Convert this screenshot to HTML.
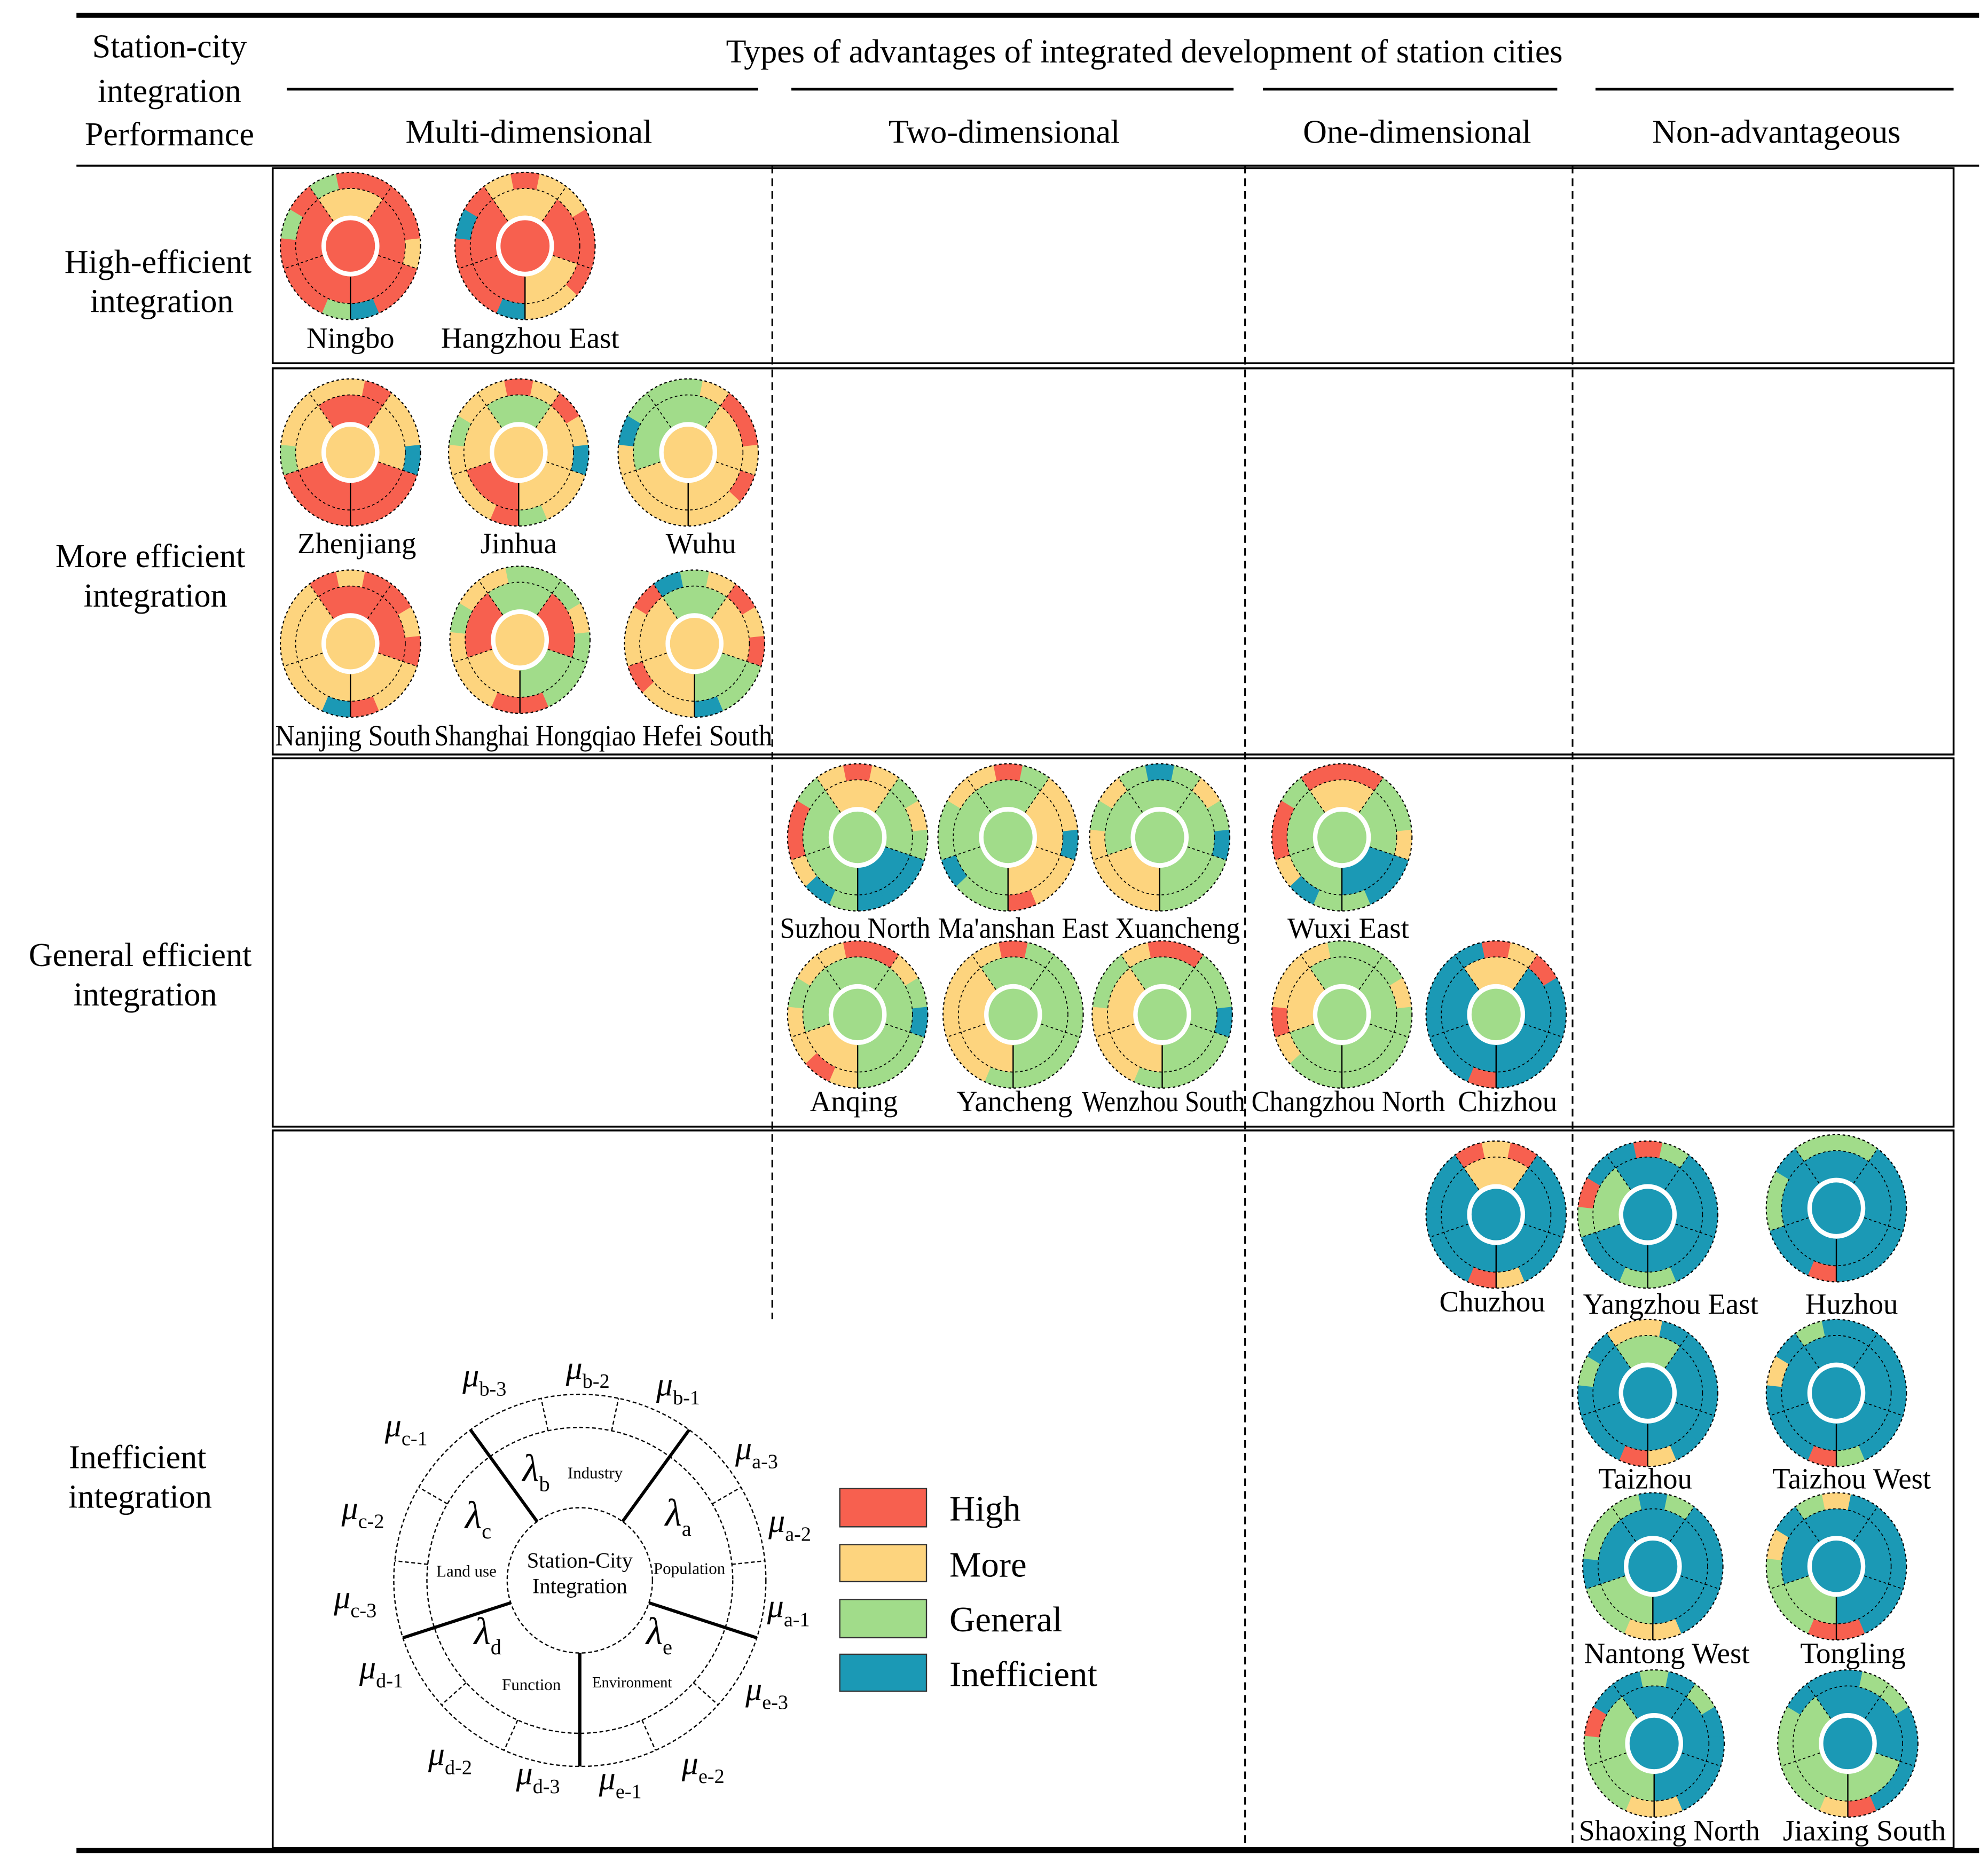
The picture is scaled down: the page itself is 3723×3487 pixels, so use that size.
<!DOCTYPE html>
<html><head><meta charset="utf-8"><style>
html,body{margin:0;padding:0;background:#fff;}
svg{display:block;}
svg text{font-family:"Liberation Serif","Times New Roman",Times,serif !important;fill:#000;}
</style></head><body>
<svg id="s" xmlns="http://www.w3.org/2000/svg" width="3723" height="3487" viewBox="0 0 1560 1461" preserveAspectRatio="none" font-family="Liberation Serif, Times New Roman, serif">
<rect width="1560" height="1461" fill="#fff"/>
<line x1="60" y1="12" x2="1553" y2="12" stroke="#000" stroke-width="4"/>
<line x1="225" y1="70" x2="595" y2="70" stroke="#000" stroke-width="2"/>
<line x1="621" y1="70" x2="968" y2="70" stroke="#000" stroke-width="2"/>
<line x1="991" y1="70" x2="1222" y2="70" stroke="#000" stroke-width="2"/>
<line x1="1252" y1="70" x2="1533" y2="70" stroke="#000" stroke-width="2"/>
<line x1="60" y1="130" x2="1553" y2="130" stroke="#000" stroke-width="1.5"/>
<rect x="214" y="132" width="1319" height="153" fill="none" stroke="#000" stroke-width="1.5"/>
<rect x="214" y="289" width="1319" height="303" fill="none" stroke="#000" stroke-width="1.5"/>
<rect x="214" y="595" width="1319" height="289" fill="none" stroke="#000" stroke-width="1.5"/>
<rect x="214" y="887" width="1319" height="563" fill="none" stroke="#000" stroke-width="1.5"/>
<line x1="60" y1="1452" x2="1553" y2="1452" stroke="#000" stroke-width="4"/>
<g stroke="#000" stroke-width="1.3" stroke-dasharray="6,4">
<line x1="606" y1="130" x2="606" y2="1035"/>
<line x1="977" y1="130" x2="977" y2="1450"/>
<line x1="1234" y1="130" x2="1234" y2="1450"/>
</g>
<g font-size="26" text-anchor="middle">
<text x="133" y="45">Station-city</text>
<text x="133" y="80">integration</text>
<text x="133" y="114">Performance</text>
<text x="898" y="49">Types of advantages of integrated development of station cities</text>
<text x="415" y="112">Multi-dimensional</text>
<text x="788" y="112">Two-dimensional</text>
<text x="1112" y="112">One-dimensional</text>
<text x="1394" y="112">Non-advantageous</text>
<text x="124" y="214">High-efficient</text>
<text x="127" y="245">integration</text>
<text x="118" y="445">More efficient</text>
<text x="122" y="476">integration</text>
<text x="110" y="758">General efficient</text>
<text x="114" y="789">integration</text>
<text x="108" y="1152">Inefficient</text>
<text x="110" y="1183">integration</text>
</g>
<g id="charts"></g>
<g font-size="23" text-anchor="middle" id="labels">
<text x="275" y="273">Ningbo</text>
<text x="416" y="273">Hangzhou East</text>
<text x="280" y="434">Zhenjiang</text>
<text x="407" y="434">Jinhua</text>
<text x="550" y="434">Wuhu</text>
<text x="277" y="585" textLength="122" lengthAdjust="spacingAndGlyphs">Nanjing South</text>
<text x="420" y="585" textLength="158" lengthAdjust="spacingAndGlyphs">Shanghai Hongqiao</text>
<text x="555" y="585" textLength="102" lengthAdjust="spacingAndGlyphs">Hefei South</text>
<text x="671" y="736" textLength="118" lengthAdjust="spacingAndGlyphs">Suzhou North</text>
<text x="803" y="736" textLength="134" lengthAdjust="spacingAndGlyphs">Ma'anshan East</text>
<text x="924" y="736" textLength="98" lengthAdjust="spacingAndGlyphs">Xuancheng</text>
<text x="1058" y="736">Wuxi East</text>
<text x="670" y="872">Anqing</text>
<text x="796" y="872">Yancheng</text>
<text x="913" y="872" textLength="128" lengthAdjust="spacingAndGlyphs">Wenzhou South</text>
<text x="1058" y="872" textLength="152" lengthAdjust="spacingAndGlyphs">Changzhou North</text>
<text x="1183" y="872">Chizhou</text>
<text x="1171" y="1029">Chuzhou</text>
<text x="1311" y="1031">Yangzhou East</text>
<text x="1453" y="1031">Huzhou</text>
<text x="1291" y="1168">Taizhou</text>
<text x="1453" y="1168">Taizhou West</text>
<text x="1308" y="1305">Nantong West</text>
<text x="1454" y="1305">Tongling</text>
<text x="1310" y="1444" textLength="142" lengthAdjust="spacingAndGlyphs">Shaoxing North</text>
<text x="1463" y="1444" textLength="128" lengthAdjust="spacingAndGlyphs">Jiaxing South</text>
</g>
<g id="leg" fill="none" stroke="#000"></g>
<g text-anchor="middle">
<text x="455" y="1230" font-size="17">Station-City</text>
<text x="455" y="1250" font-size="17">Integration</text>
<text x="467" y="1160" font-size="13">Industry</text>
<text x="541" y="1235" font-size="13">Population</text>
<text x="366" y="1237" font-size="13">Land use</text>
<text x="417" y="1326" font-size="13">Function</text>
<text x="496" y="1324" font-size="12">Environment</text>
</g>
<g font-size="30" font-style="italic">
<text x="410" y="1162">λ<tspan font-size="17" font-style="normal" dy="8">b</tspan></text>
<text x="522" y="1197">λ<tspan font-size="17" font-style="normal" dy="8">a</tspan></text>
<text x="365" y="1199">λ<tspan font-size="17" font-style="normal" dy="8">c</tspan></text>
<text x="372" y="1290">λ<tspan font-size="17" font-style="normal" dy="8">d</tspan></text>
<text x="507" y="1290">λ<tspan font-size="17" font-style="normal" dy="8">e</tspan></text>
</g>
<g font-size="26" font-style="italic" id="mu"></g>
<g stroke="#333" stroke-width="1">
<rect x="659" y="1168" width="68" height="30" fill="#f7604f"/>
<rect x="659" y="1212" width="68" height="29" fill="#fdd47e"/>
<rect x="659" y="1255" width="68" height="30" fill="#a1dc8a"/>
<rect x="659" y="1298" width="68" height="29" fill="#1b99b5"/>
</g>
<g font-size="28">
<text x="745" y="1193">High</text>
<text x="745" y="1237">More</text>
<text x="745" y="1280">General</text>
<text x="745" y="1323">Inefficient</text>
</g>
</svg>
<script>
var NS="http://www.w3.org/2000/svg";
var C={R:"#f7604f",Y:"#fdd47e",G:"#a1dc8a",B:"#1b99b5"};
function pt(cx,cy,r,a){var t=(a-90)*Math.PI/180;return [cx+r*Math.cos(t),cy+r*Math.sin(t)];}
function sector(cx,cy,r1,r2,a1,a2){
 var p1=pt(cx,cy,r2,a1),p2=pt(cx,cy,r2,a2),p3=pt(cx,cy,r1,a2),p4=pt(cx,cy,r1,a1);
 var lg=(a2-a1)>180?1:0;
 return "M"+p1+" A"+r2+","+r2+" 0 "+lg+" 1 "+p2+" L"+p3+" A"+r1+","+r1+" 0 "+lg+" 0 "+p4+"Z";
}
function el(tag,attrs,parent){var e=document.createElementNS(NS,tag);for(var k in attrs)e.setAttribute(k,attrs[k]);parent.appendChild(e);return e;}
var charts=document.getElementById("charts");
function donut(cx,cy,center,inner,outer){
 var g=el("g",{transform:"translate("+cx+","+cy+") scale(1,1.05)"},charts);
 var R=55,m=43;
 for(var i=0;i<15;i++){var a=324+i*24;el("path",{d:sector(0,0,m-0.5,R,a,a+24.3),fill:C[outer[i]]},g);}
 for(var i=0;i<5;i++){var a=324+i*72;el("path",{d:sector(0,0,20,m,a,a+72.3),fill:C[inner[i]]},g);}
 el("circle",{cx:0,cy:0,r:21,fill:C[center]},g);
 el("circle",{cx:0,cy:0,r:21,fill:"none",stroke:"#fff","stroke-width":3.5},g);
 el("circle",{cx:0,cy:0,r:R,fill:"none",stroke:"#000","stroke-width":0.9,"stroke-dasharray":"2,2"},g);
 el("circle",{cx:0,cy:0,r:m,fill:"none",stroke:"#000","stroke-width":0.7,"stroke-dasharray":"2,2"},g);
 for(var i=0;i<5;i++){var a=324+i*72;var p=pt(0,0,23,a),q=pt(0,0,R,a);
  el("line",{x1:p[0],y1:p[1],x2:q[0],y2:q[1],stroke:"#000","stroke-width":i==3?1:0.7,"stroke-dasharray":i==3?"":"2,2"},g);}
}
var D=[
[275,193,"R","YRRRR","GRRRRYRRBGRRRGR"],
[412,193,"R","YRYRR","YRYYRRRYYBRRRBR"],
[275,355,"Y","RYRRY","YYRYYBRRRRRRGYY"],
[407,355,"Y","GYYRY","YRYRYBYYGRYYYGY"],
[540,355,"Y","GYYYG","GGYRRYRYYYYYYBG"],
[275,505,"Y","RRYYY","RYRRYRYYRBYYYYY"],
[408,502,"Y","GRGYR","YGGGYGGGRRYYYGY"],
[545,505,"Y","GYGYY","BGYRYRGGBYYRYYR"],
[673,657,"G","YGBGG","YRYGYGBBBGBYRRG"],
[791,657,"G","GYYGG","YRGYYBYYRGGBGGY"],
[910,657,"G","GGGYG","GBGYGBGGGYYYYGY"],
[1053,657,"G","YGBGG","RRRGGYBBGGBYRRG"],
[673,796,"G","GGGYG","YRRYGBGGGYRYYGY"],
[795,796,"G","GGGYY","YRGGGGGGGGYYYYY"],
[912,796,"G","GGGYY","YRRGGBGGGGYYYGG"],
[1053,796,"G","GGGGY","YGGGYGGGGGGYRYY"],
[1174,796,"G","YBBBB","BRYRBBBBBRBBBBB"],
[1174,953,"B","YBBBB","RYRBBBBBYRBBBBB"],
[1293,953,"B","BBBBG","BRGBBBBBGGBBGRB"],
[1441,948,"B","BBBBB","GGGBBBBBBRBBGGB"],
[1293,1093,"B","GBBBB","YYBBBBBBYRBBBGB"],
[1441,1093,"B","BBBBB","GBBBBBBBGRBBBYB"],
[1297,1229,"B","BBBGB","GBGBBBBBYYGGBGG"],
[1441,1229,"B","BBBGB","GYBBBBBBRRGGGYB"],
[1298,1368,"B","BBBGG","BGBGBBBBYYGGGRB"],
[1450,1368,"B","BBGGG","BBGGBBBBRYGGGGB"]
];
D.forEach(function(d){donut(d[0],d[1],d[2],d[3].split(""),d[4].split(""));});
var leg=document.getElementById("leg"),cx=455,cy=1240;
[57,120,146].forEach(function(r){el("circle",{cx:cx,cy:cy,r:r,"stroke-width":1,"stroke-dasharray":"3,2"},leg);});
for(var i=0;i<5;i++){var a=324+i*72;var p=pt(cx,cy,57,a),q=pt(cx,cy,146,a);
 el("line",{x1:p[0],y1:p[1],x2:q[0],y2:q[1],"stroke-width":2.5},leg);
 for(var j=1;j<3;j++){var b=a+j*24;var p2=pt(cx,cy,120,b),q2=pt(cx,cy,146,b);
 el("line",{x1:p2[0],y1:p2[1],x2:q2[0],y2:q2[1],"stroke-width":1,"stroke-dasharray":"3,2"},leg);}}
var mu=document.getElementById("mu");
[["b-3",363,1088],["b-2",444,1082],["b-1",515,1095],["a-3",577,1145],["a-2",603,1202],["a-1",602,1269],["e-3",585,1334],["e-2",535,1392],["e-1",470,1404],["d-3",405,1400],["d-2",336,1385],["d-1",282,1317],["c-3",262,1262],["c-2",268,1192],["c-1",302,1127]].forEach(function(m){
 var t=el("text",{x:m[1],y:m[2]},mu);t.textContent="μ";
 var s=el("tspan",{"font-size":"16","font-style":"normal",dy:"7"},t);s.textContent=m[0];
});
</script>
</body></html>
